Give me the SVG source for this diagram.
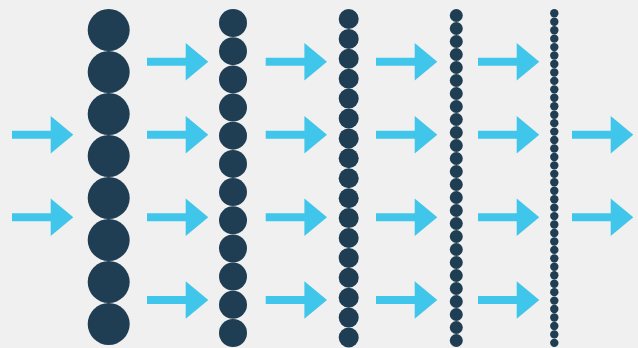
<svg xmlns="http://www.w3.org/2000/svg" xmlns:xlink="http://www.w3.org/1999/xlink" width="638" height="348" viewBox="0 0 638 348">
<style>
.dot{fill:#1F3E53}
.arr{fill:#40C6EA}
</style>
<defs>
<path id="a" class="arr" d="M0,-4H38.7V-18.7L61.3,0L38.7,18.7V4H0Z"/>
</defs>
<rect width="638" height="348" fill="#F0F0F0"/>
<g id="col1" class="dot">
<circle cx="108.7" cy="30" r="21"/><circle cx="108.7" cy="72" r="21"/><circle cx="108.7" cy="114" r="21"/><circle cx="108.7" cy="156" r="21"/><circle cx="108.7" cy="198" r="21"/><circle cx="108.7" cy="240" r="21"/><circle cx="108.7" cy="282" r="21"/><circle cx="108.7" cy="324" r="21"/>
</g>
<g id="col2" class="dot">
<circle cx="233" cy="23" r="14"/><circle cx="233" cy="51.2" r="14"/><circle cx="233" cy="79.4" r="14"/><circle cx="233" cy="107.6" r="14"/><circle cx="233" cy="135.7" r="14"/><circle cx="233" cy="163.9" r="14"/><circle cx="233" cy="192.1" r="14"/><circle cx="233" cy="220.3" r="14"/><circle cx="233" cy="248.5" r="14"/><circle cx="233" cy="276.6" r="14"/><circle cx="233" cy="304.8" r="14"/><circle cx="233" cy="333" r="14"/>
</g>
<g id="col3" class="dot">
<circle cx="348.7" cy="19" r="10"/><circle cx="348.7" cy="38.9" r="10"/><circle cx="348.7" cy="58.8" r="10"/><circle cx="348.7" cy="78.7" r="10"/><circle cx="348.7" cy="98.6" r="10"/><circle cx="348.7" cy="118.5" r="10"/><circle cx="348.7" cy="138.4" r="10"/><circle cx="348.7" cy="158.3" r="10"/><circle cx="348.7" cy="178.2" r="10"/><circle cx="348.7" cy="198.2" r="10"/><circle cx="348.7" cy="218.1" r="10"/><circle cx="348.7" cy="238" r="10"/><circle cx="348.7" cy="257.9" r="10"/><circle cx="348.7" cy="277.8" r="10"/><circle cx="348.7" cy="297.7" r="10"/><circle cx="348.7" cy="317.6" r="10"/><circle cx="348.7" cy="337.5" r="10"/>
</g>
<g id="col4" class="dot">
<circle cx="456.3" cy="15.5" r="6.5"/><circle cx="456.3" cy="28.5" r="6.5"/><circle cx="456.3" cy="41.5" r="6.5"/><circle cx="456.3" cy="54.5" r="6.5"/><circle cx="456.3" cy="67.5" r="6.5"/><circle cx="456.3" cy="80.5" r="6.5"/><circle cx="456.3" cy="93.5" r="6.5"/><circle cx="456.3" cy="106.5" r="6.5"/><circle cx="456.3" cy="119.5" r="6.5"/><circle cx="456.3" cy="132.5" r="6.5"/><circle cx="456.3" cy="145.5" r="6.5"/><circle cx="456.3" cy="158.5" r="6.5"/><circle cx="456.3" cy="171.5" r="6.5"/><circle cx="456.3" cy="184.5" r="6.5"/><circle cx="456.3" cy="197.5" r="6.5"/><circle cx="456.3" cy="210.5" r="6.5"/><circle cx="456.3" cy="223.5" r="6.5"/><circle cx="456.3" cy="236.5" r="6.5"/><circle cx="456.3" cy="249.5" r="6.5"/><circle cx="456.3" cy="262.5" r="6.5"/><circle cx="456.3" cy="275.5" r="6.5"/><circle cx="456.3" cy="288.5" r="6.5"/><circle cx="456.3" cy="301.5" r="6.5"/><circle cx="456.3" cy="314.5" r="6.5"/><circle cx="456.3" cy="327.5" r="6.5"/><circle cx="456.3" cy="340.5" r="6.5"/>
</g>
<g id="col5" class="dot">
<circle cx="554.3" cy="13.3" r="4.2"/><circle cx="554.3" cy="21.75" r="4.2"/><circle cx="554.3" cy="30.2" r="4.2"/><circle cx="554.3" cy="38.65" r="4.2"/><circle cx="554.3" cy="47.1" r="4.2"/><circle cx="554.3" cy="55.55" r="4.2"/><circle cx="554.3" cy="64" r="4.2"/><circle cx="554.3" cy="72.45" r="4.2"/><circle cx="554.3" cy="80.9" r="4.2"/><circle cx="554.3" cy="89.35" r="4.2"/><circle cx="554.3" cy="97.8" r="4.2"/><circle cx="554.3" cy="106.25" r="4.2"/><circle cx="554.3" cy="114.7" r="4.2"/><circle cx="554.3" cy="123.15" r="4.2"/><circle cx="554.3" cy="131.6" r="4.2"/><circle cx="554.3" cy="140.05" r="4.2"/><circle cx="554.3" cy="148.5" r="4.2"/><circle cx="554.3" cy="156.95" r="4.2"/><circle cx="554.3" cy="165.4" r="4.2"/><circle cx="554.3" cy="173.85" r="4.2"/><circle cx="554.3" cy="182.3" r="4.2"/><circle cx="554.3" cy="190.75" r="4.2"/><circle cx="554.3" cy="199.2" r="4.2"/><circle cx="554.3" cy="207.65" r="4.2"/><circle cx="554.3" cy="216.1" r="4.2"/><circle cx="554.3" cy="224.55" r="4.2"/><circle cx="554.3" cy="233" r="4.2"/><circle cx="554.3" cy="241.45" r="4.2"/><circle cx="554.3" cy="249.9" r="4.2"/><circle cx="554.3" cy="258.35" r="4.2"/><circle cx="554.3" cy="266.8" r="4.2"/><circle cx="554.3" cy="275.25" r="4.2"/><circle cx="554.3" cy="283.7" r="4.2"/><circle cx="554.3" cy="292.15" r="4.2"/><circle cx="554.3" cy="300.6" r="4.2"/><circle cx="554.3" cy="309.05" r="4.2"/><circle cx="554.3" cy="317.5" r="4.2"/><circle cx="554.3" cy="325.95" r="4.2"/><circle cx="554.3" cy="334.4" r="4.2"/><circle cx="554.3" cy="342.85" r="4.2"/>
</g>
<g id="connectors">
<use xlink:href="#a" href="#a" x="12" y="134.7"/>
<use xlink:href="#a" href="#a" x="12" y="217.3"/>
<use xlink:href="#a" href="#a" x="147" y="61.7"/>
<use xlink:href="#a" href="#a" x="147" y="134.7"/>
<use xlink:href="#a" href="#a" x="147" y="217.3"/>
<use xlink:href="#a" href="#a" x="147" y="300"/>
<use xlink:href="#a" href="#a" x="265.7" y="61.7"/>
<use xlink:href="#a" href="#a" x="265.7" y="134.7"/>
<use xlink:href="#a" href="#a" x="265.7" y="217.3"/>
<use xlink:href="#a" href="#a" x="265.7" y="300"/>
<use xlink:href="#a" href="#a" x="376" y="61.7"/>
<use xlink:href="#a" href="#a" x="376" y="134.7"/>
<use xlink:href="#a" href="#a" x="376" y="217.3"/>
<use xlink:href="#a" href="#a" x="376" y="300"/>
<use xlink:href="#a" href="#a" x="478" y="61.7"/>
<use xlink:href="#a" href="#a" x="478" y="134.7"/>
<use xlink:href="#a" href="#a" x="478" y="217.3"/>
<use xlink:href="#a" href="#a" x="478" y="300"/>
<use xlink:href="#a" href="#a" x="572" y="134.7"/>
<use xlink:href="#a" href="#a" x="572" y="217.3"/>
</g>
</svg>
